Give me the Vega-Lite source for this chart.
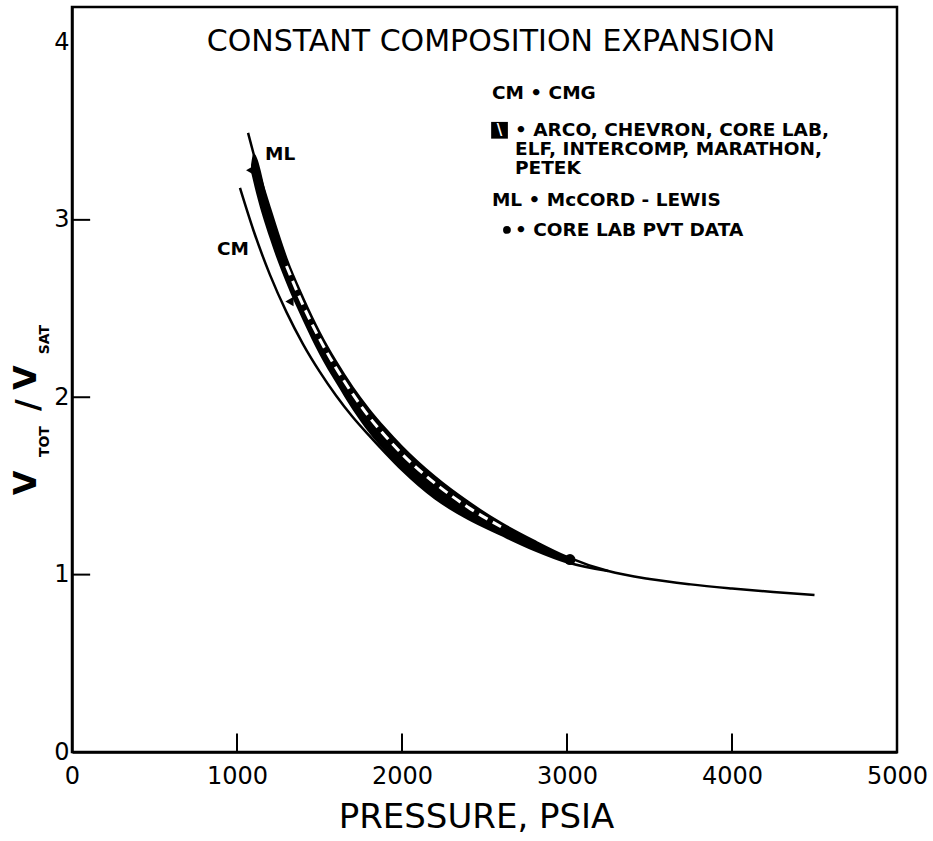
{
  "$schema": "https://vega.github.io/schema/vega-lite/v6.json",
  "width": 825,
  "height": 745,
  "autosize": {"type": "none"},
  "padding": {"left": 72, "top": 7, "right": 36, "bottom": 89},
  "background": "white",
  "config": {
    "view": {"stroke": "black", "strokeWidth": 2.5},
    "font": "DejaVu Sans"
  },
  "datasets": {
    "band": [
      {"p": 1085, "v": 3.27, "v2": 3.31},
      {"p": 1100, "v": 3.21, "v2": 3.374},
      {"p": 1200, "v": 2.89, "v2": 3.063},
      {"p": 1300, "v": 2.64, "v2": 2.78},
      {"p": 1400, "v": 2.43, "v2": 2.56},
      {"p": 1500, "v": 2.24, "v2": 2.365},
      {"p": 1600, "v": 2.08, "v2": 2.2},
      {"p": 1700, "v": 1.93, "v2": 2.055},
      {"p": 1800, "v": 1.8, "v2": 1.93},
      {"p": 1900, "v": 1.69, "v2": 1.82},
      {"p": 2000, "v": 1.59, "v2": 1.72},
      {"p": 2200, "v": 1.43, "v2": 1.55},
      {"p": 2400, "v": 1.315, "v2": 1.41},
      {"p": 2600, "v": 1.225, "v2": 1.29},
      {"p": 2800, "v": 1.14, "v2": 1.19},
      {"p": 3000, "v": 1.07, "v2": 1.1}
    ],
    "curves": [
      {"series": "ML", "p": 1067, "v": 3.49},
      {"series": "ML", "p": 1100, "v": 3.374},
      {"series": "ML", "p": 1200, "v": 3.063},
      {"series": "ML", "p": 1300, "v": 2.78},
      {"series": "ML", "p": 1400, "v": 2.56},
      {"series": "ML", "p": 1500, "v": 2.365},
      {"series": "ML", "p": 1600, "v": 2.2},
      {"series": "ML", "p": 1700, "v": 2.055},
      {"series": "ML", "p": 1800, "v": 1.93},
      {"series": "ML", "p": 1900, "v": 1.82},
      {"series": "ML", "p": 2000, "v": 1.72},
      {"series": "ML", "p": 2200, "v": 1.55},
      {"series": "ML", "p": 2400, "v": 1.41},
      {"series": "ML", "p": 2600, "v": 1.29},
      {"series": "ML", "p": 2800, "v": 1.19},
      {"series": "ML", "p": 3000, "v": 1.1},
      {"series": "ML", "p": 3250, "v": 1.02},
      {"series": "ML", "p": 3500, "v": 0.975},
      {"series": "ML", "p": 3750, "v": 0.945},
      {"series": "ML", "p": 4000, "v": 0.922},
      {"series": "ML", "p": 4250, "v": 0.902},
      {"series": "ML", "p": 4500, "v": 0.885},
      {"series": "CM", "p": 1018, "v": 3.18},
      {"series": "CM", "p": 1100, "v": 2.94},
      {"series": "CM", "p": 1200, "v": 2.69},
      {"series": "CM", "p": 1300, "v": 2.48},
      {"series": "CM", "p": 1400, "v": 2.3},
      {"series": "CM", "p": 1500, "v": 2.146},
      {"series": "CM", "p": 1600, "v": 2.01},
      {"series": "CM", "p": 1700, "v": 1.89},
      {"series": "CM", "p": 1800, "v": 1.785},
      {"series": "CM", "p": 1900, "v": 1.685},
      {"series": "CM", "p": 2000, "v": 1.59},
      {"series": "CM", "p": 2200, "v": 1.43},
      {"series": "CM", "p": 2400, "v": 1.315},
      {"series": "CM", "p": 2600, "v": 1.225},
      {"series": "CM", "p": 2800, "v": 1.14},
      {"series": "CM", "p": 3000, "v": 1.07},
      {"series": "CM", "p": 3250, "v": 1.02}
    ],
    "dashes": [
      {"p": 1300, "v": 2.74},
      {"p": 1400, "v": 2.52},
      {"p": 1500, "v": 2.33},
      {"p": 1600, "v": 2.165},
      {"p": 1700, "v": 2.02},
      {"p": 1800, "v": 1.89},
      {"p": 1900, "v": 1.78},
      {"p": 2000, "v": 1.68},
      {"p": 2200, "v": 1.515},
      {"p": 2400, "v": 1.38},
      {"p": 2600, "v": 1.27}
    ],
    "wedges": [
      {"p": 1080, "v": 3.28},
      {"p": 1318, "v": 2.54}
    ],
    "pvt": [
      {"p": 3018, "v": 1.085}
    ],
    "xticks": [
      {"p": 1000, "v": 0},
      {"p": 2000, "v": 0},
      {"p": 3000, "v": 0},
      {"p": 4000, "v": 0}
    ],
    "yticks": [
      {"p": 0, "v": 1},
      {"p": 0, "v": 2},
      {"p": 0, "v": 3}
    ],
    "title": [
      {"p": 2539, "v": 4.003, "label": "CONSTANT COMPOSITION EXPANSION"}
    ],
    "legend": [
      {"p": 2545, "v": 3.715, "label": "CM • CMG"},
      {"p": 2685, "v": 3.508, "label": "• ARCO, CHEVRON, CORE LAB,"},
      {"p": 2685, "v": 3.4, "label": "ELF, INTERCOMP, MARATHON,"},
      {"p": 2685, "v": 3.292, "label": "PETEK"},
      {"p": 2545, "v": 3.112, "label": "ML • McCORD - LEWIS"},
      {"p": 2685, "v": 2.943, "label": "• CORE LAB PVT DATA"},
      {"p": 1170, "v": 3.374, "label": "ML"},
      {"p": 879, "v": 2.833, "label": "CM"}
    ],
    "legendBox": [{"p": 2591, "v": 3.505}],
    "legendDot": [{"p": 2636, "v": 2.943}],
    "ytitleBig": [
      {"p": -279, "v": 1.517, "label": "V"},
      {"p": -265, "v": 1.956, "label": "/"},
      {"p": -279, "v": 2.11, "label": "V"}
    ],
    "ytitleSmall": [
      {"p": -164, "v": 1.75, "label": "TOT"},
      {"p": -164, "v": 2.325, "label": "SAT"}
    ]
  },
  "encoding": {
    "x": {
      "field": "p",
      "type": "quantitative",
      "scale": {"domain": [0, 5000], "nice": false, "zero": false},
      "axis": {
        "title": "PRESSURE, PSIA",
        "values": [0, 1000, 2000, 3000, 4000, 5000],
        "format": "d",
        "grid": false,
        "domainColor": "black",
        "domainWidth": 2.5,
        "ticks": false,
        "labelFontSize": 24,
        "labelColor": "black",
        "labelPadding": 12,
        "labelFont": "DejaVu Sans",
        "labelFlush": false,
        "titleFontSize": 34,
        "titleFontWeight": "normal",
        "titleColor": "black",
        "titleFont": "DejaVu Sans",
        "titlePadding": 12,
        "titleX": 404
      }
    },
    "y": {
      "field": "v",
      "type": "quantitative",
      "scale": {"domain": [0, 4.2], "nice": false, "zero": false},
      "axis": {
        "title": null,
        "values": [0, 1, 2, 3, 4],
        "grid": false,
        "domainColor": "black",
        "domainWidth": 2.5,
        "ticks": false,
        "labelFontSize": 24,
        "labelColor": "black",
        "labelPadding": 3,
        "labelFont": "DejaVu Sans",
        "labelFlush": false
      }
    }
  },
  "layer": [
    {
      "data": {"name": "xticks"},
      "mark": {"type": "rule", "color": "black", "strokeWidth": 2},
      "encoding": {"y2": {"datum": 0.105}}
    },
    {
      "data": {"name": "yticks"},
      "mark": {"type": "rule", "color": "black", "strokeWidth": 2},
      "encoding": {"x2": {"datum": 110}}
    },
    {
      "data": {"name": "band"},
      "mark": {"type": "area", "color": "black", "interpolate": "monotone", "opacity": 1},
      "encoding": {"y2": {"field": "v2"}}
    },
    {
      "data": {"name": "curves"},
      "mark": {"type": "line", "color": "black", "strokeWidth": 2.5, "interpolate": "monotone"},
      "encoding": {"detail": {"field": "series"}}
    },
    {
      "data": {"name": "dashes"},
      "mark": {"type": "line", "color": "white", "strokeWidth": 3, "strokeDash": [10, 6], "interpolate": "monotone"},
      "encoding": {}
    },
    {
      "data": {"name": "wedges"},
      "mark": {"type": "point", "shape": "triangle-left", "filled": true, "color": "black", "opacity": 1, "size": 90},
      "encoding": {}
    },
    {
      "data": {"name": "pvt"},
      "mark": {"type": "point", "shape": "circle", "filled": true, "color": "black", "opacity": 1, "size": 120},
      "encoding": {}
    },
    {
      "data": {"name": "title"},
      "mark": {"type": "text", "font": "DejaVu Sans", "fontSize": 30, "color": "black", "align": "center", "baseline": "middle"},
      "encoding": {"text": {"field": "label"}}
    },
    {
      "data": {"name": "legend"},
      "mark": {"type": "text", "font": "DejaVu Sans", "fontSize": 18.5, "fontWeight": "bold", "color": "black", "align": "left", "baseline": "middle"},
      "encoding": {"text": {"field": "label"}}
    },
    {
      "data": {"name": "legendBox"},
      "mark": {"type": "point", "shape": "square", "filled": true, "color": "black", "opacity": 1, "size": 280},
      "encoding": {}
    },
    {
      "data": {"name": "legendBox"},
      "mark": {"type": "text", "text": "\\", "font": "DejaVu Sans", "fontSize": 15, "fontWeight": "bold", "color": "white", "align": "center", "baseline": "middle"},
      "encoding": {}
    },
    {
      "data": {"name": "legendDot"},
      "mark": {"type": "point", "shape": "circle", "filled": true, "color": "black", "opacity": 1, "size": 60},
      "encoding": {}
    },
    {
      "data": {"name": "ytitleBig"},
      "mark": {"type": "text", "font": "DejaVu Sans", "fontSize": 32, "fontWeight": "bold", "color": "black", "align": "center", "baseline": "middle", "angle": 270},
      "encoding": {"text": {"field": "label"}}
    },
    {
      "data": {"name": "ytitleSmall"},
      "mark": {"type": "text", "font": "DejaVu Sans", "fontSize": 14, "fontWeight": "bold", "color": "black", "align": "center", "baseline": "middle", "angle": 270},
      "encoding": {"text": {"field": "label"}}
    }
  ]
}
